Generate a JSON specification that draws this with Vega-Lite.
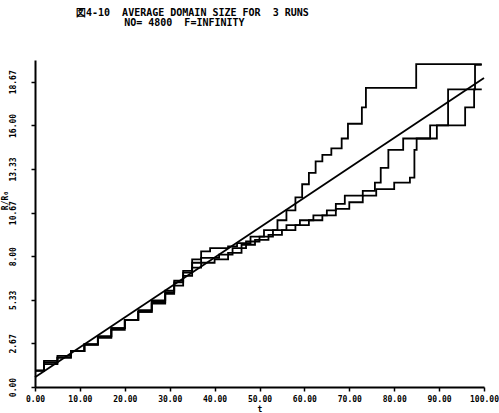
{
  "$schema": "https://vega.github.io/schema/vega-lite/v6.json",
  "autosize": "none",
  "width": 449,
  "height": 327,
  "padding": {"left": 35, "top": 60, "right": 15, "bottom": 26},
  "background": "white",
  "title": {
    "text": "図4-10\u2007\u2007AVERAGE DOMAIN SIZE FOR\u2007\u20073 RUNS",
    "subtitle": "\u200b\u2007\u2007\u2007\u2007\u2007\u2007\u2007\u2007NO=\u20074800\u2007\u2007F=INFINITY",
    "anchor": "start",
    "frame": "group",
    "dx": 41,
    "offset": 32,
    "font": "DejaVu Sans Mono",
    "fontSize": 10,
    "fontWeight": "bold",
    "color": "black",
    "subtitleFont": "DejaVu Sans Mono",
    "subtitleFontSize": 10,
    "subtitleFontWeight": "bold",
    "subtitleColor": "black",
    "subtitlePadding": 0
  },
  "config": {
    "view": {"stroke": null},
    "axis": {
      "grid": false,
      "domainColor": "black",
      "domainWidth": 2,
      "tickColor": "black",
      "tickWidth": 1.5,
      "tickSize": 4,
      "labelFont": "DejaVu Sans Mono",
      "labelFontWeight": "bold",
      "labelFontSize": 8,
      "labelColor": "black",
      "titleFont": "DejaVu Sans Mono",
      "titleFontWeight": "bold",
      "titleFontSize": 8,
      "titleColor": "black"
    }
  },
  "datasets": {
    "runs": [
      {"t": 0, "v": 1.0, "run": "A"}, {"t": 2, "v": 1.5, "run": "A"}, {"t": 5, "v": 1.8, "run": "A"}, {"t": 8, "v": 2.2, "run": "A"}, {"t": 11, "v": 2.6, "run": "A"}, {"t": 14, "v": 3.1, "run": "A"}, {"t": 17, "v": 3.6, "run": "A"}, {"t": 20, "v": 4.1, "run": "A"}, {"t": 23, "v": 4.7, "run": "A"}, {"t": 26, "v": 5.3, "run": "A"}, {"t": 29, "v": 5.9, "run": "A"}, {"t": 31, "v": 6.5, "run": "A"}, {"t": 33, "v": 7.1, "run": "A"}, {"t": 35, "v": 7.8, "run": "A"}, {"t": 37, "v": 8.3, "run": "A"}, {"t": 39, "v": 8.5, "run": "A"}, {"t": 43, "v": 8.6, "run": "A"}, {"t": 45, "v": 8.8, "run": "A"}, {"t": 48, "v": 9.2, "run": "A"}, {"t": 51, "v": 9.6, "run": "A"}, {"t": 54, "v": 10.2, "run": "A"}, {"t": 56, "v": 10.8, "run": "A"}, {"t": 58, "v": 11.6, "run": "A"}, {"t": 59.5, "v": 12.4, "run": "A"}, {"t": 61, "v": 13.1, "run": "A"}, {"t": 62.5, "v": 13.8, "run": "A"}, {"t": 64, "v": 14.2, "run": "A"}, {"t": 66, "v": 14.6, "run": "A"}, {"t": 68.3, "v": 15.2, "run": "A"}, {"t": 69.7, "v": 16.1, "run": "A"}, {"t": 72.8, "v": 17.1, "run": "A"}, {"t": 73.7, "v": 18.3, "run": "A"}, {"t": 84.9, "v": 19.75, "run": "A"}, {"t": 99.5, "v": 19.75, "run": "A"},
      {"t": 0, "v": 1.0, "run": "B"}, {"t": 2, "v": 1.6, "run": "B"}, {"t": 5, "v": 1.9, "run": "B"}, {"t": 8, "v": 2.2, "run": "B"}, {"t": 11, "v": 2.6, "run": "B"}, {"t": 14, "v": 3.0, "run": "B"}, {"t": 17, "v": 3.5, "run": "B"}, {"t": 20, "v": 4.1, "run": "B"}, {"t": 23, "v": 4.6, "run": "B"}, {"t": 26, "v": 5.2, "run": "B"}, {"t": 29, "v": 5.8, "run": "B"}, {"t": 31, "v": 6.4, "run": "B"}, {"t": 33, "v": 7.0, "run": "B"}, {"t": 35, "v": 7.6, "run": "B"}, {"t": 37, "v": 7.9, "run": "B"}, {"t": 41, "v": 8.1, "run": "B"}, {"t": 44, "v": 8.5, "run": "B"}, {"t": 47, "v": 8.9, "run": "B"}, {"t": 50, "v": 9.2, "run": "B"}, {"t": 53, "v": 9.6, "run": "B"}, {"t": 56, "v": 9.9, "run": "B"}, {"t": 59, "v": 10.2, "run": "B"}, {"t": 62, "v": 10.5, "run": "B"}, {"t": 65, "v": 10.8, "run": "B"}, {"t": 67, "v": 11.2, "run": "B"}, {"t": 69, "v": 11.7, "run": "B"}, {"t": 73, "v": 12.0, "run": "B"}, {"t": 75.7, "v": 12.5, "run": "B"}, {"t": 77, "v": 13.4, "run": "B"}, {"t": 78.7, "v": 14.5, "run": "B"}, {"t": 82, "v": 15.2, "run": "B"}, {"t": 88, "v": 16.0, "run": "B"}, {"t": 92, "v": 18.2, "run": "B"}, {"t": 98, "v": 19.7, "run": "B"}, {"t": 99.5, "v": 19.7, "run": "B"},
      {"t": 0, "v": 1.0, "run": "C"}, {"t": 2, "v": 1.4, "run": "C"}, {"t": 5, "v": 1.8, "run": "C"}, {"t": 8, "v": 2.2, "run": "C"}, {"t": 11, "v": 2.6, "run": "C"}, {"t": 14, "v": 3.1, "run": "C"}, {"t": 17, "v": 3.6, "run": "C"}, {"t": 20, "v": 4.1, "run": "C"}, {"t": 23, "v": 4.6, "run": "C"}, {"t": 26, "v": 5.1, "run": "C"}, {"t": 29, "v": 5.7, "run": "C"}, {"t": 31, "v": 6.2, "run": "C"}, {"t": 33, "v": 6.8, "run": "C"}, {"t": 35, "v": 7.3, "run": "C"}, {"t": 37, "v": 7.6, "run": "C"}, {"t": 40, "v": 7.8, "run": "C"}, {"t": 43, "v": 8.2, "run": "C"}, {"t": 46, "v": 8.7, "run": "C"}, {"t": 49, "v": 9.0, "run": "C"}, {"t": 52, "v": 9.3, "run": "C"}, {"t": 55, "v": 9.6, "run": "C"}, {"t": 58, "v": 9.9, "run": "C"}, {"t": 61, "v": 10.2, "run": "C"}, {"t": 64, "v": 10.5, "run": "C"}, {"t": 67, "v": 10.9, "run": "C"}, {"t": 70, "v": 11.3, "run": "C"}, {"t": 73, "v": 11.7, "run": "C"}, {"t": 76, "v": 12.1, "run": "C"}, {"t": 80, "v": 12.5, "run": "C"}, {"t": 83.5, "v": 12.8, "run": "C"}, {"t": 84.5, "v": 14.5, "run": "C"}, {"t": 85, "v": 15.2, "run": "C"}, {"t": 89.5, "v": 16.0, "run": "C"}, {"t": 95.8, "v": 17.1, "run": "C"}, {"t": 97.8, "v": 18.2, "run": "C"}, {"t": 99.5, "v": 18.2, "run": "C"}
    ],
    "fit": [
      {"t": 0, "v": 0.6},
      {"t": 100, "v": 18.9}
    ]
  },
  "layer": [
    {
      "data": {"name": "runs"},
      "mark": {"type": "line", "interpolate": "step-after", "color": "black", "strokeWidth": 1.8},
      "encoding": {
        "x": {
          "field": "t", "type": "quantitative",
          "scale": {"domain": [0, 100], "nice": false},
          "axis": {
            "title": "t",
            "values": [0, 5, 10, 15, 20, 25, 30, 35, 40, 45, 50, 55, 60, 65, 70, 75, 80, 85, 90, 95, 100],
            "labelExpr": "datum.value % 10 == 0 ? format(datum.value, '.2f') : ''",
            "labelPadding": 4,
            "titlePadding": 2,
            "labelFlush": false,
            "labelOverlap": false
          }
        },
        "y": {
          "field": "v", "type": "quantitative",
          "scale": {"domain": [0, 20], "nice": false, "zero": false},
          "axis": {
            "title": "R/R₀",
            "values": [0, 1.3333, 2.6667, 4, 5.3333, 6.6667, 8, 9.3333, 10.6667, 12, 13.3333, 14.6667, 16, 17.3333, 18.6667, 20],
            "labelExpr": "round(datum.value * 3) % 8 == 0 ? format(datum.value, '.2f') : ''",
            "labelAngle": -90,
            "labelAlign": "center",
            "labelBaseline": "bottom",
            "labelPadding": 14,
            "labelFlush": false,
            "labelOverlap": false,
            "titleX": -26,
            "titleY": 140,
            "titleAngle": -90,
            "titleAlign": "center",
            "titleBaseline": "bottom"
          }
        },
        "detail": {"field": "run", "type": "nominal"}
      }
    },
    {
      "data": {"name": "fit"},
      "mark": {"type": "line", "color": "black", "strokeWidth": 1.8},
      "encoding": {
        "x": {"field": "t", "type": "quantitative"},
        "y": {"field": "v", "type": "quantitative"}
      }
    }
  ]
}
